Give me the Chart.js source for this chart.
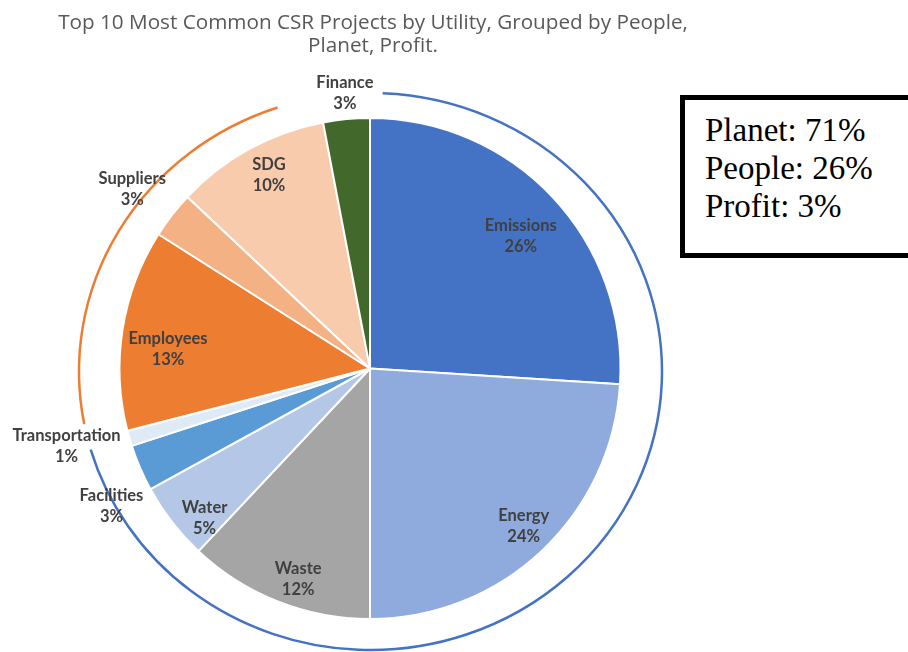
<!DOCTYPE html>
<html>
<head>
<meta charset="utf-8">
<title>Top 10 Most Common CSR Projects</title>
<script src="https://cdn.jsdelivr.net/npm/chart.js@4.4.0/dist/chart.umd.min.js"></script>
<style>
  html, body { margin: 0; padding: 0; background: #fff; overflow: hidden; }
  #wrap { position: relative; width: 908px; height: 652px; overflow: hidden; }
  #c { position: absolute; left: 0; top: 0; }
  #title {
    position: absolute; left: 23px; width: 700px; top: 10px;
    text-align: center; white-space: nowrap;
    font-family: 'Open Sans', sans-serif; font-size: 20.7px; line-height: 23px;
    color: #595959;
  }
  #summary {
    position: absolute; left: 680px; top: 95px;
    width: 260px; height: 142px;
    border: 5px solid #000; box-sizing: content-box;
    padding: 11px 0 0 20px;
    font-family: 'Liberation Serif', 'DejaVu Serif', serif;
    font-size: 33px; line-height: 38px; color: #000;
    background: #fff;
  }
  #summary div { white-space: nowrap; }
</style>
</head>
<body>
<div id="wrap">
  <canvas id="c" width="908" height="652"></canvas>
  <div id="title"></div>
  <div id="summary"></div>
</div>
<script>
// Project categories, clockwise from 12 o'clock
const categories = ['Emissions', 'Energy', 'Waste', 'Water', 'Facilities',
                    'Transportation', 'Employees', 'Suppliers', 'SDG', 'Finance'];
// Share of projects per category (%)
const shares = [26, 24, 12, 5, 3, 1, 13, 3, 10, 3];
// People / Planet / Profit grouping of each category
const groups = ['Planet', 'Planet', 'Planet', 'Planet', 'Planet',
                'Planet', 'People', 'People', 'People', 'Profit'];
// Order of the groups in the summary box
const groupOrder = ['Planet', 'People', 'Profit'];

const titleLines = ['Top 10 Most Common CSR Projects by Utility, Grouped by People,',
                    'Planet, Profit.'];

// Slice fill colours
const sliceColors = ['#4472C4', '#8FAADC', '#A5A5A5', '#B4C7E7', '#5B9BD5',
                     '#DEEBF7', '#ED7D31', '#F4B183', '#F8CBAD', '#43682B'];

// Label placement per slice: radius as a fraction of the pie radius, and a small angular nudge (deg)
const labelPlacement = [
  { r: 0.80, nudge: 2 },   // Emissions
  { r: 0.88, nudge: -1 },  // Energy
  { r: 0.89, nudge: -2.8 },// Waste
  { r: 0.89, nudge: -4.3 },// Water
  { r: 1.17, nudge: -4.7 },// Facilities
  { r: 1.25, nudge: 1.9 }, // Transportation
  { r: 0.81, nudge: -3.5 },// Employees
  { r: 1.19, nudge: -0.7 },// Suppliers
  { r: 0.87, nudge: 1.2 }, // SDG
  { r: 1.105, nudge: 0.2 } // Finance
];

// Bracket arcs drawn around the People and Planet groups
const groupArcs = [
  { group: 'Planet', color: '#4472C4', startInset: 2.5, endInset: 1.2 },
  { group: 'People', color: '#ED7D31', startInset: 4.0, endInset: 8.6 }
];

document.getElementById('title').innerHTML =
  titleLines.map(t => '<div>' + t + '</div>').join('');

// Summary box text built from the group totals
const totals = {};
groups.forEach((g, i) => { totals[g] = (totals[g] || 0) + shares[i]; });
document.getElementById('summary').innerHTML =
  groupOrder.map(g => '<div>' + g + ': ' + totals[g] + '%</div>').join('');

const deg = Math.PI / 180;

const groupArcPlugin = {
  id: 'groupArcs',
  afterDatasetsDraw(chart) {
    const meta = chart.getDatasetMeta(0);
    const first = meta.data[0];
    const cx = first.x + 0.5, cy = first.y + 3;
    const R = first.outerRadius;
    const rx = R + 41, ry = R + 28;
    const ctx = chart.ctx;
    groupArcs.forEach(ga => {
      const idx = groups.map((g, i) => g === ga.group ? i : -1).filter(i => i >= 0);
      const a0 = meta.data[idx[0]].startAngle + ga.startInset * deg;
      const a1 = meta.data[idx[idx.length - 1]].endAngle - ga.endInset * deg;
      // convert polar angles to ellipse parameters
      const t0 = Math.atan2(Math.sin(a0) / ry, Math.cos(a0) / rx);
      let t1 = Math.atan2(Math.sin(a1) / ry, Math.cos(a1) / rx);
      while (t1 < t0) t1 += 2 * Math.PI;
      ctx.save();
      ctx.beginPath();
      ctx.ellipse(cx, cy, rx, ry, 0, t0, t1, false);
      ctx.strokeStyle = ga.color;
      ctx.lineWidth = 2.5;
      ctx.stroke();
      ctx.restore();
    });
  }
};

const sliceLabelPlugin = {
  id: 'sliceLabels',
  afterDatasetsDraw(chart) {
    const meta = chart.getDatasetMeta(0);
    const ctx = chart.ctx;
    ctx.save();
    ctx.font = 'bold 16.5px Lato, "Open Sans", sans-serif';
    ctx.fillStyle = '#404040';
    ctx.textAlign = 'center';
    ctx.textBaseline = 'middle';
    meta.data.forEach((arc, i) => {
      const p = labelPlacement[i];
      const mid = (arc.startAngle + arc.endAngle) / 2 + p.nudge * deg;
      const x = arc.x + Math.cos(mid) * arc.outerRadius * p.r;
      const y = arc.y + Math.sin(mid) * arc.outerRadius * p.r;
      ctx.fillText(categories[i], x, y - 10.5);
      ctx.fillText(shares[i] + '%', x, y + 10.5);
    });
    ctx.restore();
  }
};

new Chart(document.getElementById('c'), {
  type: 'pie',
  data: {
    labels: categories,
    datasets: [{
      data: shares,
      backgroundColor: sliceColors,
      borderColor: '#ffffff',
      borderWidth: 2
    }]
  },
  options: {
    responsive: false,
    animation: false,
    layout: { padding: { left: 118.5, right: 286.5, top: 117, bottom: 32 } },
    plugins: {
      legend: { display: false },
      tooltip: { enabled: false },
      title: { display: false }
    }
  },
  plugins: [groupArcPlugin, sliceLabelPlugin]
});
</script>
</body>
</html>
